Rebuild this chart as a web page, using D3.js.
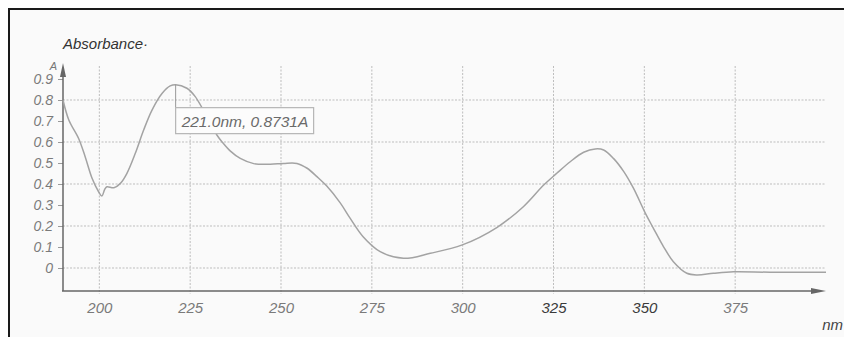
<!DOCTYPE html>
<html>
<head>
<meta charset="utf-8">
<script src="https://cdn.jsdelivr.net/npm/d3@7"></script>
<style>
  body { margin: 0; background: #fff; }
  text { font-family: "Liberation Sans", Arial, sans-serif; font-style: italic; }
</style>
</head>
<body>
<div id="chart"></div>
<script>
// spectrum: wavelength (nm) and absorbance (A)
const wavelengths = [190, 191.6, 194.3, 196.1, 198, 199.8, 200.7, 201.5, 202.1, 204, 205.8, 207.6, 209.9,
  212.2, 214.5, 217.3, 219.5, 221, 224.1, 226.4, 232.4, 233.8, 236, 238.8, 242.5, 247.1, 250.7, 254.4,
  257.2, 259.9, 262.6, 266.3, 269.1, 272.6, 277.3, 283.7, 291.1, 299.9, 309.5, 316.7, 322.3, 325.9,
  329.6, 333.3, 336.5, 338.8, 341.5, 344.3, 347, 350.3, 352.5, 355.3, 358, 361.7, 364.5, 369, 374.5,
  384.6, 400];
const absorbance = [0.80, 0.705, 0.617, 0.53, 0.427, 0.363, 0.343, 0.375, 0.387, 0.382, 0.403, 0.451, 0.546,
  0.657, 0.752, 0.832, 0.867, 0.8731, 0.856, 0.816, 0.632, 0.6, 0.558, 0.522, 0.497, 0.494, 0.498, 0.498,
  0.475, 0.435, 0.39, 0.31, 0.235, 0.149, 0.078, 0.046, 0.07, 0.11, 0.194, 0.292, 0.395, 0.451,
  0.506, 0.551, 0.567, 0.562, 0.522, 0.46, 0.38, 0.26, 0.189, 0.101, 0.03, -0.025, -0.033, -0.025, -0.018,
  -0.02, -0.02];

const xTicks = [200, 225, 250, 275, 300, 325, 350, 375];
const yTicks = [0, 0.1, 0.2, 0.3, 0.4, 0.5, 0.6, 0.7, 0.8, 0.9];
const yGrid = [0, 0.2, 0.4, 0.6, 0.8];
const peak = {nm: 221.0, a: 0.8731};

const data = wavelengths.map((w, i) => ({nm: w, a: absorbance[i]}));

const W = 844, H = 337;
const svg = d3.select("#chart").append("svg")
    .attr("width", W)
    .attr("height", H);

// frame (scan of a printout)
svg.append("rect")
    .attr("x", 9).attr("y", 10)
    .attr("width", W - 9).attr("height", H - 10)
    .attr("fill", "#fafafa");
svg.append("path")
    .attr("d", `M9,${H} L9,9 L${W},9`)
    .attr("fill", "none")
    .attr("stroke", "#1a1a1a")
    .attr("stroke-width", 2);

const x = d3.scaleLinear().domain([190, 400]).range([63, 826]);
const y = d3.scaleLinear().domain([0, 0.9]).range([268, 79]);
const axisY = 291;

// grid
svg.append("g").selectAll("line")
    .data(xTicks)
    .enter().append("line")
    .attr("x1", d => x(d)).attr("x2", d => x(d))
    .attr("y1", 66).attr("y2", axisY + 3)
    .attr("stroke", "#bdbdbd")
    .attr("stroke-dasharray", "2,1.5");

svg.append("g").selectAll("line")
    .data(yGrid)
    .enter().append("line")
    .attr("x1", x(190)).attr("x2", 826)
    .attr("y1", d => y(d)).attr("y2", d => y(d))
    .attr("stroke", "#bdbdbd")
    .attr("stroke-dasharray", "2,1.5");

// y axis with ticks every 0.1
const yAxis = svg.append("g")
    .attr("transform", `translate(${x(190)},0)`)
    .call(d3.axisLeft(y).tickValues(yTicks).tickSize(5).tickPadding(5)
        .tickFormat(d => d === 0 ? "0" : d3.format(".1f")(d)));
yAxis.select(".domain").remove();
yAxis.selectAll("line").attr("stroke", "#999");
yAxis.selectAll("text")
    .attr("fill", "#7a7a7a")
    .style("font-size", "14px");

// x axis labels
const xAxis = svg.append("g")
    .attr("transform", `translate(0,${axisY})`)
    .call(d3.axisBottom(x).tickValues(xTicks).tickSize(0).tickPadding(11));
xAxis.select(".domain").remove();
xAxis.selectAll("text")
    .attr("fill", d => (d === 325 || d === 350) ? "#3a3a3a" : "#7a7a7a")
    .style("font-size", "15px");

// axis lines with arrows
svg.append("line")
    .attr("x1", 62).attr("x2", 818)
    .attr("y1", axisY).attr("y2", axisY)
    .attr("stroke", "#666").attr("stroke-width", 1.5);
svg.append("path")
    .attr("d", `M826,${axisY} L811,${axisY - 3} L811,${axisY + 3} Z`)
    .attr("fill", "#666");
svg.append("line")
    .attr("x1", x(190)).attr("x2", x(190))
    .attr("y1", axisY).attr("y2", 72)
    .attr("stroke", "#666").attr("stroke-width", 1.5);
svg.append("path")
    .attr("d", `M${x(190)},63 L${x(190) - 3},77 L${x(190) + 3},77 Z`)
    .attr("fill", "#666");

// titles
svg.append("text")
    .attr("x", 63).attr("y", 49)
    .attr("fill", "#333")
    .style("font-size", "15px")
    .text("Absorbance·");
svg.append("text")
    .attr("x", 57).attr("y", 70)
    .attr("text-anchor", "end")
    .attr("fill", "#777")
    .style("font-size", "11px")
    .text("A");
svg.append("text")
    .attr("x", 843).attr("y", 330)
    .attr("text-anchor", "end")
    .attr("fill", "#444")
    .style("font-size", "15px")
    .text("nm");

// spectrum
const line = d3.line()
    .x(d => x(d.nm))
    .y(d => y(d.a))
    .curve(d3.curveCatmullRom.alpha(0.5));

svg.append("path")
    .datum(data)
    .attr("fill", "none")
    .attr("stroke", "#a3a3a3")
    .attr("stroke-width", 1.5)
    .attr("d", line);

// cursor readout
const px = x(peak.nm), py = y(peak.a);
svg.append("line")
    .attr("x1", px).attr("x2", px)
    .attr("y1", py).attr("y2", py + 23)
    .attr("stroke", "#999");
svg.append("rect")
    .attr("x", px).attr("y", py + 23)
    .attr("width", 138).attr("height", 26)
    .attr("fill", "#fcfcfc")
    .attr("stroke", "#b5b5b5")
    .attr("stroke-width", 1.2);
svg.append("text")
    .attr("x", px + 6).attr("y", py + 42)
    .attr("fill", "#6a6a6a")
    .style("font-size", "15.5px")
    .text(`${peak.nm.toFixed(1)}nm, ${peak.a.toFixed(4)}A`);
</script>
</body>
</html>
